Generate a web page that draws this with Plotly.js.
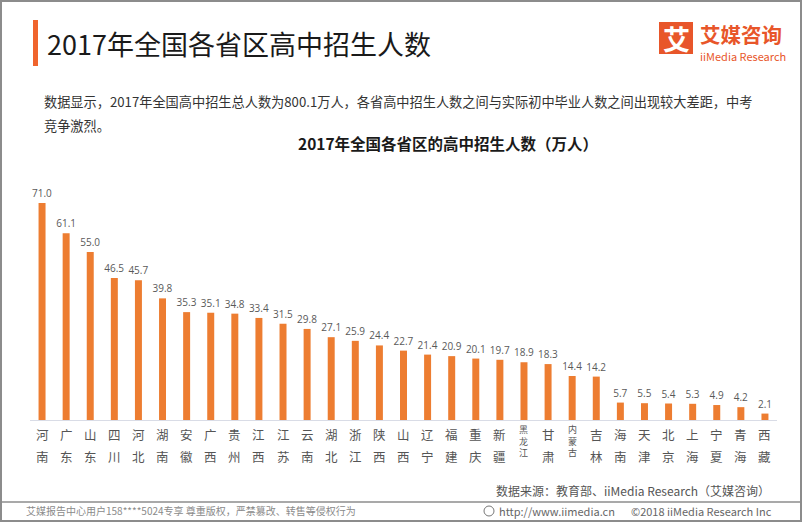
<!DOCTYPE html>
<html><head><meta charset="utf-8">
<script src="https://cdn.plot.ly/plotly-3.0.1.min.js"></script>
<style>html,body{margin:0;padding:0;background:#fff;}#c{width:802px;height:522px;}</style>
</head><body><div id="c"></div>
<script>
const provinces = ["河南","广东","山东","四川","河北","湖南","安徽","广西","贵州","江西","江苏","云南","湖北","浙江","陕西","山西","辽宁","福建","重庆","新疆","黑龙江","甘肃","内蒙古","吉林","海南","天津","北京","上海","宁夏","青海","西藏"];
const enrollment = [71.0,61.1,55.0,46.5,45.7,39.8,35.3,35.1,34.8,33.4,31.5,29.8,27.1,25.9,24.4,22.7,21.4,20.9,20.1,19.7,18.9,18.3,14.4,14.2,5.7,5.5,5.4,5.3,4.9,4.2,2.1];
const valueLabels = enrollment.map(v => v.toFixed(1));

const W=802,H=522,m={l:30,r:25,t:170,b:102};
const pw=W-m.l-m.r, ph=H-m.t-m.b;
const X=p=>(p-m.l)/pw, Y=p=>(H-m.b-p)/ph;
const CJK='"Noto Sans CJK SC", "Noto Sans", sans-serif';
const orange='#ed7d31';

const ann=[];
function txt(x,y,t,size,color,xa,ya,extra){
  ann.push(Object.assign({xref:'paper',yref:'paper',x:X(x),y:Y(y),text:t,showarrow:false,
    xanchor:xa||'left',yanchor:ya||'middle',font:{family:CJK,size:size,color:color}},extra||{}));
}
// header
txt(45,43,'2017年全国各省区高中招生人数',27,'#1a1a1a');
txt(676,38,'<b>艾</b>',27,'#ffffff','center');
txt(699,34,'<b>艾媒咨询</b>',20.5,'#e8562a','left','middle',{borderpad:0});
txt(699,56,'iiMedia Research',11,'#e8562a','left','middle',{borderpad:0});
// description
txt(42,101,'数据显示，2017年全国高中招生总人数为800.1万人，各省高中招生人数之间与实际初中毕业人数之间出现较大差距，中考',13.2,'#333333');
txt(42,125,'竞争激烈。',13.2,'#333333');
// chart title
txt(448,143,'<b>2017年全国各省区的高中招生人数（万人）</b>',15.5,'#1a1a1a','center');
// source
txt(772,490,'数据来源：教育部、iiMedia Research（艾媒咨询）',12,'#555555','right');
// footer
txt(24,511,'艾媒报告中心用户158****5024专享 尊重版权，严禁篡改、转售等侵权行为',10,'#8a8a8a');
txt(497,511,'http://www.iimedia.cn',11,'#666666');
txt(774,511,'©2018 iiMedia Research Inc',11,'#666666','right');

// vertical category labels
provinces.forEach((p,i)=>{
  const chars=[...p];
  if(chars.length===3){
    ann.push({xref:'x',yref:'paper',x:i,y:Y(441),text:chars.join('<br>'),showarrow:false,xanchor:'center',yanchor:'middle',
      borderpad:0,font:{family:CJK,size:9,color:'#555555'}});
  } else {
    [434,456].forEach((yy,k)=>{
      ann.push({xref:'x',yref:'paper',x:i,y:Y(yy),text:chars[k],showarrow:false,xanchor:'center',yanchor:'middle',
        font:{family:CJK,size:12.5,color:'#555555'}});
    });
  }
});

const shapes=[
  {type:'rect',xref:'paper',yref:'paper',x0:X(1),x1:X(801),y0:Y(521),y1:Y(1),line:{color:'#8c8c8c',width:2},fillcolor:'rgba(0,0,0,0)',layer:'above'},
  {type:'line',xref:'paper',yref:'paper',x0:X(1),x1:X(801),y0:Y(502),y1:Y(502),line:{color:'#8c8c8c',width:1.5}},
  {type:'rect',xref:'paper',yref:'paper',x0:X(33),x1:X(38),y0:Y(66),y1:Y(20),line:{width:0},fillcolor:'#f0642d'},
  {type:'rect',xref:'paper',yref:'paper',x0:X(659),x1:X(693),y0:Y(54),y1:Y(22),line:{width:0},fillcolor:'#e8562a'},
  {type:'circle',xref:'paper',yref:'paper',x0:X(484),x1:X(494),y0:Y(516),y1:Y(506),line:{color:'#777',width:1}}
];

Plotly.newPlot('c',[{
  type:'bar',x:provinces.map((p,i)=>i),y:enrollment,text:valueLabels,textposition:'outside',constraintext:'none',
  textfont:{family:'"Open Sans", sans-serif',size:10,color:'#595959'},cliponaxis:false,
  marker:{color:orange},hoverinfo:'skip'
}],{
  width:W,height:H,margin:m,paper_bgcolor:'#fff',plot_bgcolor:'#fff',showlegend:false,bargap:0.71,
  xaxis:{type:'linear',range:[-0.5,30.5],showticklabels:false,showgrid:false,zeroline:false,ticks:'',
    showline:true,linecolor:'#d9dce6',linewidth:1},
  yaxis:{range:[0,250/3.056],visible:false,showgrid:false,zeroline:false},
  annotations:ann,shapes:shapes
},{staticPlot:true});
</script></body></html>
